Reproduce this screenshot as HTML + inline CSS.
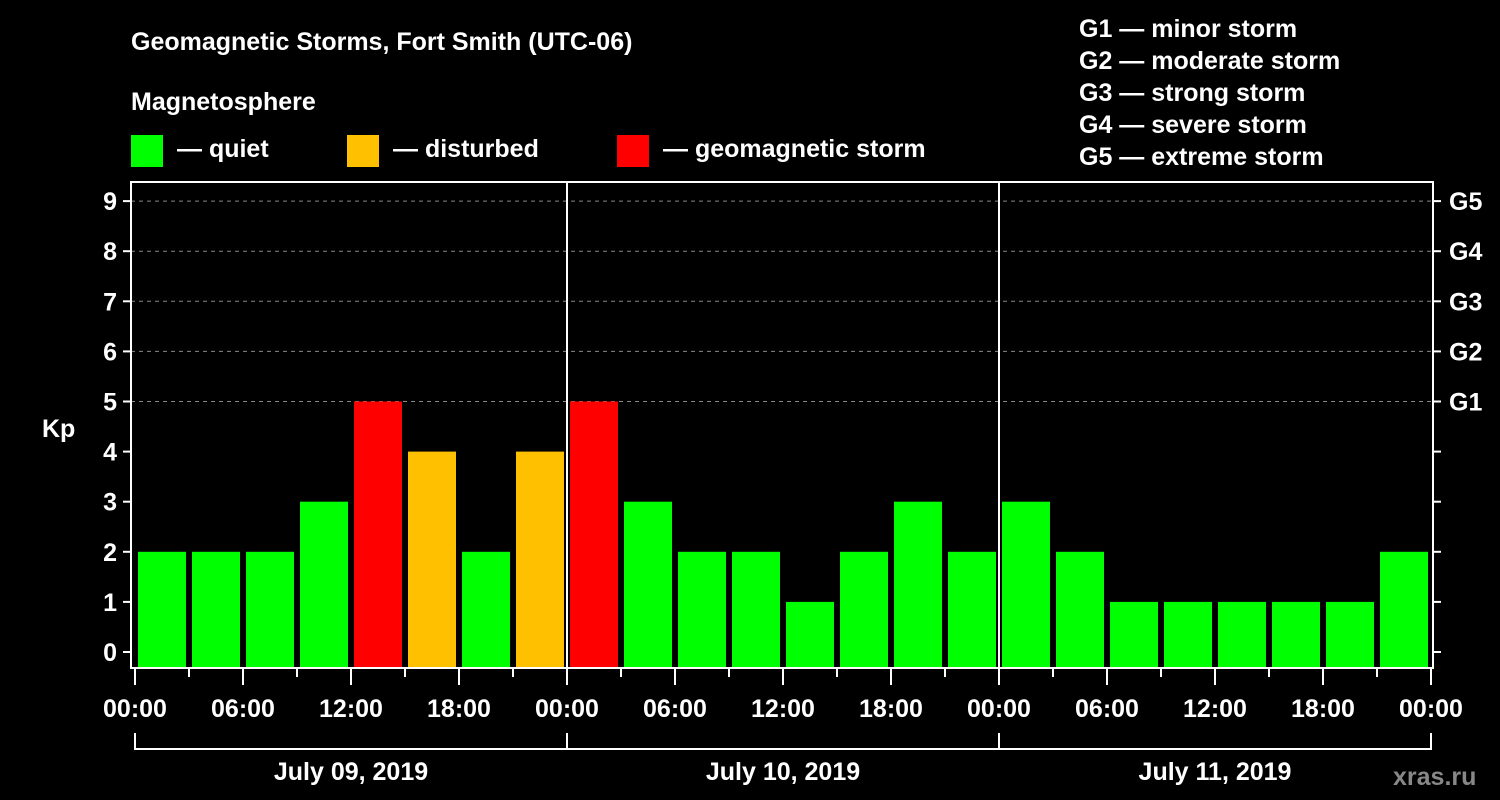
<!DOCTYPE html>
<html><head><meta charset="utf-8"><style>
body{margin:0;background:#000;width:1500px;height:800px;overflow:hidden}
svg{display:block;font-family:"Liberation Sans",Arial,sans-serif;font-weight:bold}
</style></head><body>
<svg id="c" width="1500" height="800">
<text x="131" y="50" fill="#fff" font-size="25">Geomagnetic Storms, Fort Smith (UTC-06)</text>
<text x="131" y="110" fill="#fff" font-size="25">Magnetosphere</text>
<g><rect x="131" y="135" width="32" height="32" fill="#00ff00"/><text x="177" y="157" fill="#fff" font-size="25">— quiet</text></g>
<g><rect x="347" y="135" width="32" height="32" fill="#ffc000"/><text x="393" y="157" fill="#fff" font-size="25">— disturbed</text></g>
<g><rect x="617" y="135" width="32" height="32" fill="#ff0000"/><text x="663" y="157" fill="#fff" font-size="25">— geomagnetic storm</text></g>
<g fill="#fff" font-size="25">
<text x="1079" y="37">G1 — minor storm</text><text x="1079" y="69">G2 — moderate storm</text><text x="1079" y="101">G3 — strong storm</text><text x="1079" y="133">G4 — severe storm</text><text x="1079" y="165">G5 — extreme storm</text>
</g>
<text x="42" y="437" fill="#fff" font-size="25">Kp</text>
<text x="1393" y="785" fill="#888" font-size="25">xras.ru</text>
<g id="plot"></g>
</svg>
<script>
const kpValues=[2,2,2,3,5,4,2,4, 5,3,2,2,1,2,3,2, 3,2,1,1,1,1,1,2];
const yTicks=[0,1,2,3,4,5,6,7,8,9];
const gLabels=[[5,"G1"],[6,"G2"],[7,"G3"],[8,"G4"],[9,"G5"]];
const hourLabels=["00:00","06:00","12:00","18:00"];
const dayLabels=["July 09, 2019","July 10, 2019","July 11, 2019"];
const NS="http://www.w3.org/2000/svg";
const g=document.getElementById('plot');
const X0=135,DAY=432,L=131,R=1433,T=182,B=668;
const y=v=>652-50.1*v;
const x=h=>X0+h*(DAY/24);
function el(t,a,p){const e=document.createElementNS(NS,t);for(const k in a)e.setAttribute(k,a[k]);(p||g).appendChild(e);return e;}
yTicks.forEach(v=>{
 if(v>=5){const l=el('line',{x1:L,x2:R,y1:y(v),y2:y(v),stroke:'#888','stroke-dasharray':'4 4'});
 
 }
 const t=el('line',{x1:L-8,x2:L,y1:y(v),y2:y(v),stroke:'#fff','stroke-width':2});
 
 
 const t2=el('line',{x1:R,x2:R+8,y1:y(v),y2:y(v),stroke:'#fff','stroke-width':2});
 
 
 const tx=el('text',{x:L-14,y:y(v)+9,fill:'#fff','font-size':25,'text-anchor':'end'});tx.textContent=v;
 
 
});
gLabels.forEach(([v,s])=>{const tx=el('text',{x:R+16,y:y(v)+9,fill:'#fff','font-size':25});tx.textContent=s;
 
 });
kpValues.forEach((v,i)=>{
 const c=v>=5?'#ff0000':v>=4?'#ffc000':'#00ff00';
 const top=y(v);
 const r=el('rect',{x:x(i*3)+3,y:top,width:48,height:B-top,fill:c});
 
 
});
el('rect',{x:L,y:T,width:R-L,height:B-T,fill:'none',stroke:'#fff','stroke-width':2});
[1,2].forEach(d=>{const l=el('line',{x1:x(d*24),x2:x(d*24),y1:T,y2:B,stroke:'#fff','stroke-width':2});
 
 });
for(let h=0;h<=72;h+=3){
 const major=h%6===0;
 const l=el('line',{x1:x(h),x2:x(h),y1:B,y2:B+(major?17:9),stroke:'#fff','stroke-width':2});
 
 
 if(major){const tx=el('text',{x:x(h),y:717,fill:'#fff','font-size':25,'text-anchor':'middle'});
 tx.textContent=hourLabels[(h/6)%4];
 
 }
}
dayLabels.forEach((s,d)=>{
 const p=el('path',{d:`M${x(d*24)} 733V749H${x(d*24+24)}V733`,stroke:'#fff','stroke-width':2,fill:'none'});
 
 
 const tx=el('text',{x:x(d*24+12),y:780,fill:'#fff','font-size':25,'text-anchor':'middle'});tx.textContent=s;
 
 
});
</script>
</body></html>
